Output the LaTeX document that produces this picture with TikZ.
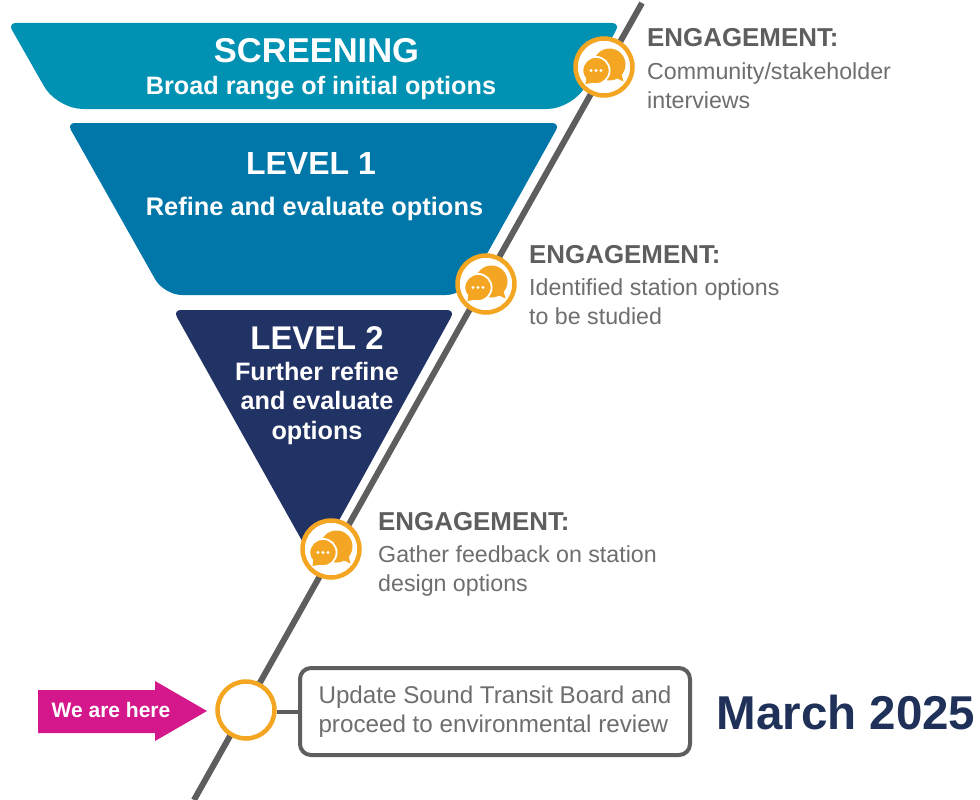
\documentclass[tikz,border=0pt]{standalone}
\usepackage{fontspec}
\setmainfont{Liberation Sans}
\definecolor{teal1}{HTML}{0091B3}
\definecolor{blue1}{HTML}{0077A8}
\definecolor{navy1}{HTML}{213265}
\definecolor{navy2}{HTML}{1F3158}
\definecolor{orange1}{HTML}{F4A622}
\definecolor{gray1}{HTML}{5E5E5E}
\definecolor{gray2}{HTML}{6E6E6E}
\definecolor{mag1}{HTML}{D4178A}
\newcommand{\fs}[2]{\fontsize{#1}{#2}\selectfont}
\tikzset{
  x=1pt,y=-1pt,
  ring/.style={circle,draw=orange1,line width=4.5pt,fill=white,minimum size=57pt,inner sep=0pt},
  funneltitle/.style={text=white,font=\bfseries\fs{32}{36},anchor=base,inner sep=0pt},
  funnelbody/.style={text=white,font=\bfseries\fs{25.2}{29.5},anchor=base,inner sep=0pt,align=center},
  enghead/.style={text=gray1,font=\bfseries\fs{25.9}{29},anchor=base west,inner sep=0pt},
  engbody/.style={text=gray2,font=\fs{23.2}{29},anchor=base west,inner sep=0pt,align=left},
  pics/chat/.style={code={
    \fill[orange1] (5.5,-2.5) circle (16);
    \fill[orange1] (8,9) -- (19.5,14.5) -- (16.5,3) -- cycle;
    \fill[orange1,draw=white,line width=1.8pt] (-8,3.5) circle (13.6);
    \fill[orange1] (-17,6) -- (-18.5,17) -- (-7,15) -- cycle;
    \fill[white] (-13,3.5) circle (1.7) (-8,3.5) circle (1.7) (-3,3.5) circle (1.7);
  }}
}
\begin{document}
\begin{tikzpicture}
\useasboundingbox (0,0) rectangle (980,800);
\fill[white] (0,0) rectangle (980,800);
% spine
\coordinate (top) at (642,3);
\coordinate (bot) at (194,800);
\draw[gray1,line width=6pt] (top) -- (bot);
% funnel
\fill[teal1] [rounded corners=8pt] (8,23) -- (620,23) [rounded corners=26pt] -- (573,109) -- (57,109) [rounded corners=8pt] -- cycle;
\fill[blue1] [rounded corners=8pt] (67,123) -- (560,123) [rounded corners=18pt] -- (464,295) -- (164,295) [rounded corners=8pt] -- cycle;
\fill[navy1] [rounded corners=8pt] (173,310) -- (455,310) [rounded corners=1pt] -- (315,564) [rounded corners=8pt] -- cycle;
\node[funneltitle,font=\bfseries\fs{34.5}{36}] (t1) at (316.5,63) {SCREENING};
\node[funnelbody] (b1) at (321,95) {Broad range of initial options};
\node[funneltitle] (t2) at (311,174) {LEVEL 1};
\node[funnelbody,font=\bfseries\fs{25.4}{29.5}] (b2) at (314.5,215) {Refine and evaluate options};
\node[funneltitle,font=\bfseries\fs{32.8}{36}] (t3) at (317,349) {LEVEL 2};
\node[funnelbody,anchor=north] (b3) at (317,362) {Further refine\\and evaluate\\options};
% rings
\node[ring] (r1) at (604,67) {};
\node[ring] (r2) at (486,284) {};
\node[ring] (r3) at (331,549) {};
\pic at (r1) {chat};
\pic at (r2) {chat};
\pic at (r3) {chat};
% engagement text
\node[enghead] (e1) at (647,47) {ENGAGEMENT:};
\node[engbody,anchor=north west] (d1) at (647,62) {Community/stakeholder\\interviews};
\node[enghead] (e2) at (529,263) {ENGAGEMENT:};
\node[engbody,anchor=north west] (d2) at (529,278) {Identified station options\\to be studied};
\node[enghead] (e3) at (378,530) {ENGAGEMENT:};
\node[engbody,anchor=north west] (d3) at (378,545) {Gather feedback on station\\design options};
% arrow
\fill[mag1] (38,690) -- (155,690) -- (155,681) -- (207,711) -- (155,741) -- (155,733) -- (38,733) -- cycle;
\node[text=white,font=\bfseries\fs{21}{24},anchor=base,inner sep=0pt] (here) at (111,717) {We are here};
% box
\node[draw=gray1,line width=4pt,rounded corners=11pt,minimum width=390pt,minimum height=87pt,inner sep=0pt,
  text=gray2,font=\fs{24.2}{29},align=left] (box) at (495,711.5) {Update Sound Transit Board and\\proceed to environmental review};
\node[ring] (r4) at (246,710) {};
\draw[gray1,line width=4pt] (r4.east |- box.west) -- (box.west);
\node[text=navy2,font=\bfseries\fs{47.5}{50},anchor=base west,inner sep=0pt] (date) at (716.5,729) {March 2025};
\end{tikzpicture}
\end{document}
